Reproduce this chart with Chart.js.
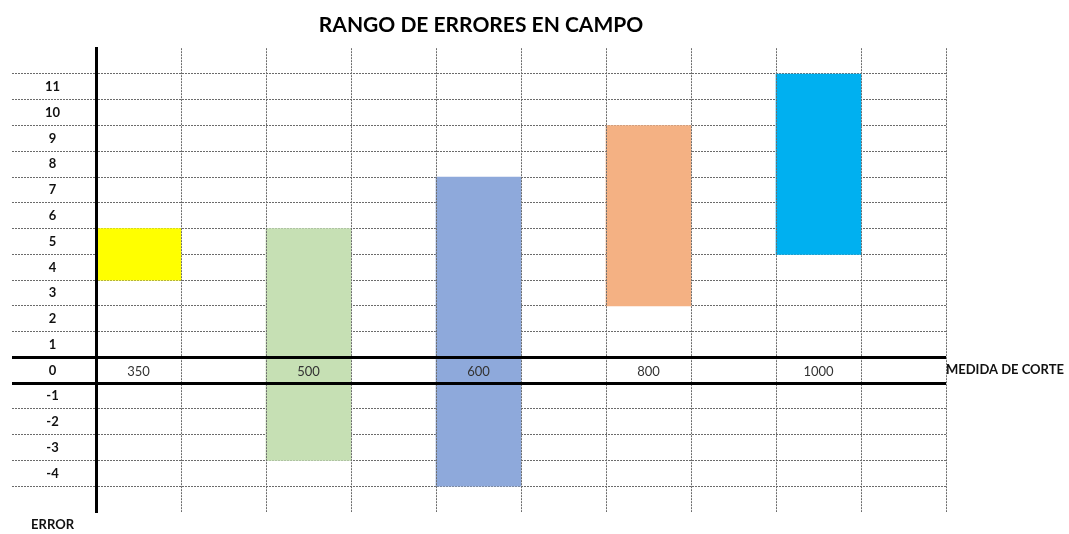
<!DOCTYPE html>
<html>
<head>
<meta charset="utf-8">
<script src="https://cdn.jsdelivr.net/npm/chart.js@4"></script>
<style>
  body { margin: 0; background: #fff; }
  #wrap { width: 1069px; height: 534px; }
</style>
</head>
<body>
<div id="wrap"><canvas id="chart"></canvas></div>
<script>
// medidas de corte y rango de error de cada una
const medidas = ['350', '500', '600', '800', '1000'];
const errorMin = [4, -3, -4, 3, 5];
const errorMax = [5, 5, 7, 9, 11];
const colores = ['#FFFF00', '#C6E0B4', '#8EA9DB', '#F4B183', '#00B0F0'];
const filas = [11, 10, 9, 8, 7, 6, 5, 4, 3, 2, 1, 0, -1, -2, -3, -4];

// each medida takes a column, with an empty column after it
let labels = [];
let barras = [];
let fondos = [];
medidas.forEach((m, i) => {
  labels.push(m, '');
  // a value fills its whole row, so the bar goes half a row past each end
  barras.push([errorMin[i] - 0.5, errorMax[i] + 0.5], null);
  fondos.push(colores[i], 'transparent');
});

const yMin = filas[filas.length - 1] - 1.5;
const yMax = filas[0] + 1.5;
// row borders sit between the numbers
let bordes = [];
for (let v = yMax; v >= yMin; v--) bordes.push(v);

const gris = '#6b6b6b';
const esGruesa = v => v === 0.5 || v === -0.5;
const esVisible = v => v < yMax && v > yMin;
const colorFila = ctx => !ctx.tick || !esVisible(ctx.tick.value) ? 'transparent' : (esGruesa(ctx.tick.value) ? '#000' : gris);
const anchoFila = ctx => ctx.tick && esGruesa(ctx.tick.value) ? 3 : 1;
const trazoFila = ctx => ctx.tick && !esGruesa(ctx.tick.value) ? [2, 1] : [];

new Chart(document.getElementById('chart'), {
  type: 'bar',
  data: {
    labels: labels,
    datasets: [{
      data: barras,
      backgroundColor: fondos,
      borderWidth: 0,
      barPercentage: 1,
      categoryPercentage: 1
    }]
  },
  options: {
    responsive: true,
    maintainAspectRatio: false,
    animation: false,
    layout: { padding: { left: 12, right: 119, top: 4, bottom: 22 } },
    plugins: {
      legend: { display: false },
      tooltip: { enabled: false },
      title: {
        display: true,
        text: 'RANGO DE ERRORES EN CAMPO',
        color: '#000',
        font: { family: 'Lato', size: 21, weight: 'bold' },
        padding: { top: 9, bottom: 10 }
      }
    },
    scales: {
      x: {
        type: 'category',
        position: { y: 0 },
        offset: true,
        grid: {
          offset: true,
          color: gris,
          lineWidth: 1,
          drawTicks: false,
          z: 1
        },
        border: { display: false, dash: [2, 1] },
        ticks: {
          autoSkip: false,
          maxRotation: 0,
          padding: -6,
          color: '#333',
          font: { family: 'Lato', size: 13 },
          z: 1
        }
      },
      y: {
        position: 'left',
        min: yMin,
        max: yMax,
        afterBuildTicks: axis => { axis.ticks = bordes.map(v => ({ value: v })); },
        afterFit: axis => { axis.width = 84; },
        grid: {
          color: colorFila,
          lineWidth: anchoFila,
          tickColor: colorFila,
          tickWidth: anchoFila,
          tickBorderDash: trazoFila,
          tickLength: 84
        },
        border: { color: '#000', width: 3, z: 1, dash: trazoFila },
        ticks: {
          autoSkip: false,
          crossAlign: 'center',
          padding: -62,
          labelOffset: 13,
          color: '#111',
          font: { family: 'Lato', size: 13, weight: 'bold' },
          callback: v => {
            if (v === yMin) return 'ERROR';
            const fila = v - 0.5;
            return filas.includes(fila) ? String(fila) : '';
          }
        }
      },
      yGruesa: {
        position: 'left',
        min: yMin,
        max: yMax,
        afterBuildTicks: axis => { axis.ticks = [{ value: 0.5 }, { value: -0.5 }]; },
        afterFit: axis => { axis.width = 0; },
        grid: { color: '#000', lineWidth: 3, drawTicks: false, z: 1 },
        border: { display: false },
        ticks: { display: false }
      },
      yDerecha: {
        position: 'right',
        min: yMin,
        max: yMax,
        afterBuildTicks: axis => { axis.ticks = [{ value: 0 }]; },
        afterFit: axis => {
          axis.width = 4;
          axis.paddingTop = 0;
          axis.paddingBottom = 0;
        },
        grid: { display: false, drawTicks: false },
        border: { display: false },
        ticks: {
          mirror: true,
          crossAlign: 'near',
          padding: 118,
          color: '#111',
          font: { family: 'Lato', size: 13, weight: 'bold' },
          callback: () => 'MEDIDA DE CORTE'
        }
      }
    }
  }
});
</script>
</body>
</html>
